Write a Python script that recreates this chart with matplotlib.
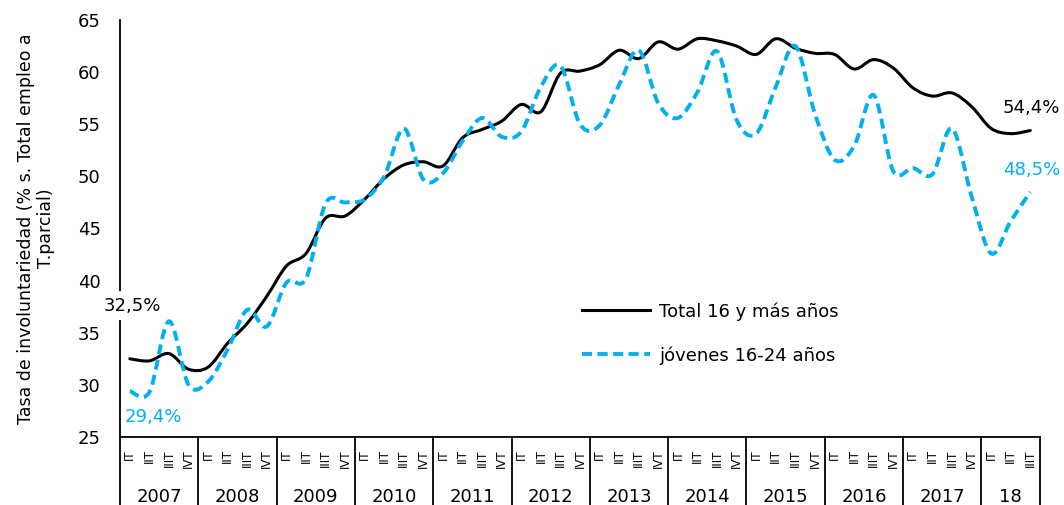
import numpy as np
import matplotlib.pyplot as plt
from matplotlib.path import Path
from matplotlib.patches import PathPatch
from matplotlib.lines import Line2D
import matplotlib.transforms as mtransforms

plt.rcParams['font.family'] = ['DejaVu Sans']

years = ['2007', '2008', '2009', '2010', '2011', '2012', '2013', '2014',
         '2015', '2016', '2017', '18']
quarters = ['IT', 'IIT', 'IIIT', 'IVT']
n_quarters = [4] * 11 + [3]

total = [32.5, 32.3, 33.0, 31.5, 31.7, 34.0, 35.9, 38.5,
         41.4, 42.6, 46.0, 46.2, 47.8, 49.8, 51.1, 51.4,
         51.0, 53.7, 54.5, 55.3, 56.9, 56.2, 59.9, 60.1,
         60.7, 62.1, 61.3, 62.9, 62.2, 63.2, 63.0, 62.5,
         61.7, 63.2, 62.3, 61.8, 61.7, 60.3, 61.2, 60.4,
         58.5, 57.7, 58.0, 56.7, 54.6, 54.1, 54.4]
jovenes = [29.4, 29.3, 36.1, 30.0, 30.3, 33.4, 37.2, 35.6,
           39.8, 40.2, 47.4, 47.5, 47.8, 50.0, 54.6, 49.7,
           50.3, 53.4, 55.6, 53.8, 54.3, 58.6, 60.6, 55.0,
           54.9, 58.8, 62.1, 57.0, 55.6, 58.1, 62.0, 55.4,
           54.1, 58.6, 62.5, 56.0, 51.6, 52.9, 57.8, 50.5,
           50.8, 50.2, 54.6, 48.1, 42.6, 45.7, 48.5]

labels_q = [quarters[q] for n in n_quarters for q in range(n)]
x = np.arange(len(total))


def smooth_path(xs, ys):
    # Catmull-Rom style bezier path, like Excel's smoothed lines
    p = np.column_stack([xs, ys]).astype(float)
    ext = np.vstack([p[0], p, p[-1]])
    verts = [p[0]]
    codes = [Path.MOVETO]
    for i in range(len(p) - 1):
        p0, p1, p2, p3 = ext[i], ext[i + 1], ext[i + 2], ext[i + 3]
        verts += [p1 + (p2 - p0) / 6, p2 - (p3 - p1) / 6, p2]
        codes += [Path.CURVE4] * 3
    return Path(verts, codes)


blue = '#00B0F0'
fig = plt.figure(figsize=(10.64, 5.05), dpi=100)
ax = fig.add_axes([0.1128, 0.1347, 0.8647, 0.8257])

ax.add_patch(PathPatch(smooth_path(x, total), fill=False, color='black',
                       lw=2.2, capstyle='round', zorder=3))
ax.add_patch(PathPatch(smooth_path(x, jovenes), fill=False, edgecolor=blue,
                       lw=2.8, linestyle=(0, (2.6, 1.4)), zorder=3))

ax.set_xlim(-0.5, len(total) - 0.5)
ax.set_ylim(25, 65)
ax.set_yticks(np.arange(25, 66, 5))
ax.tick_params(axis='y', length=0, labelsize=13, pad=14)
ax.spines['top'].set_visible(False)
ax.spines['right'].set_visible(False)
ax.spines['left'].set_linewidth(1.3)
ax.spines['bottom'].set_linewidth(1.3)

ax.set_xticks(x)
ax.set_xticklabels(labels_q, rotation=90, fontsize=8.5)
ax.tick_params(axis='x', length=0, pad=9)

ax.set_ylabel('Tasa de involuntariedad (% s. Total empleo a\nT.parcial)',
              fontsize=12.5, labelpad=16)

# year row below the quarters
trans = mtransforms.blended_transform_factory(ax.transData, ax.transAxes)
start = 0
for yr, n in zip(years, n_quarters):
    ax.plot([start - 0.5, start - 0.5], [0, -0.2], transform=trans,
            color='black', lw=1.3, clip_on=False)
    ax.text(start + (n - 1) / 2, -0.143, yr, transform=trans, fontsize=13,
            ha='center', va='center')
    start += n
ax.plot([start - 0.5, start - 0.5], [0, -0.2], transform=trans,
        color='black', lw=1.3, clip_on=False)

# end labels
ax.text(x[0] + 0.15, total[0] + 5.1, '32,5%', fontsize=13, ha='center',
        va='center', bbox=dict(facecolor='white', edgecolor='none', pad=4),
        zorder=5, clip_on=False)
ax.text(x[0] + 1.2, jovenes[0] - 2.5, '29,4%', fontsize=13, ha='center',
        va='center', color=blue,
        bbox=dict(facecolor='white', edgecolor='none', pad=1),
        zorder=5, clip_on=False)
ax.text(x[-1] + 0.05, total[-1] + 2.2, '54,4%', fontsize=13, ha='center',
        va='center', zorder=5, clip_on=False)
ax.text(x[-1] + 0.05, jovenes[-1] + 2.1, '48,5%', fontsize=13, ha='center',
        va='center', color=blue, zorder=5, clip_on=False)

handles = [Line2D([], [], color='black', lw=2.2),
           Line2D([], [], color=blue, lw=2.8, linestyle=(0, (2.6, 1.4)))]
ax.legend(handles, ['Total 16 y más años', 'jóvenes 16-24 años'],
          loc='upper left', bbox_to_anchor=(0.484, 0.362), frameon=False,
          fontsize=13, handlelength=3.8, labelspacing=1.4, handletextpad=0.5)

fig.savefig('out.png', dpi=100)
